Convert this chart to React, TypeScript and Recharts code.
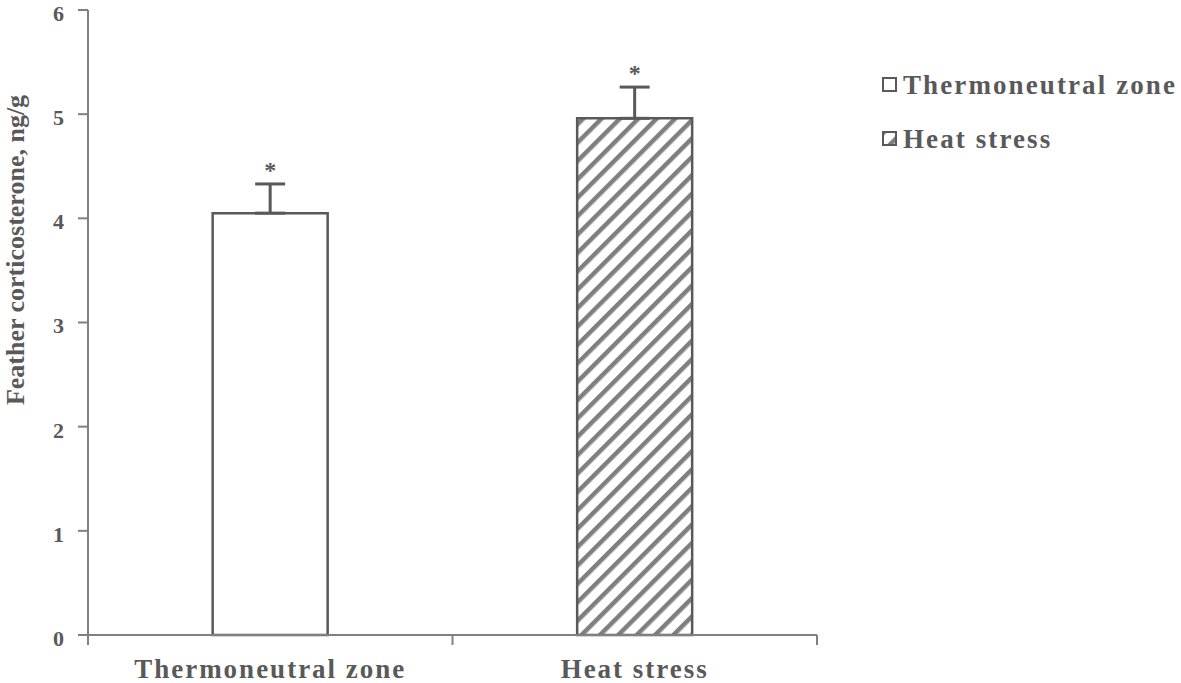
import React from "react";
import { BarChart, Bar, XAxis, YAxis, Cell, ErrorBar, Legend, LabelList, Label } from "recharts";

const categories = ["Thermoneutral zone", "Heat stress"];
const means = [4.05, 4.96];
const errors = [0.28, 0.3];
const marks = ["*", "*"];
const yTicks = [0, 1, 2, 3, 4, 5, 6];
const yTitle = "Feather corticosterone, ng/g";

const TEXT = "#595959";
const AXIS = "#808080";
const FONT = "'Liberation Serif', 'Times New Roman', serif";

const data = categories.map((c, i) => ({
  name: c,
  value: means[i],
  err: [0, errors[i]],
  mark: marks[i],
}));

const fills = ["#ffffff", "url(#hatch)"];

const XTick = (props: any) => {
  const { x, y, payload, index } = props;
  const off = payload.offset || 0;
  return (
    <g>
      <line x1={x - off} x2={x - off} y1={y} y2={y + 10} stroke={AXIS} strokeWidth={2} />
      {index === categories.length - 1 && (
        <line x1={x + off} x2={x + off} y1={y} y2={y + 10} stroke={AXIS} strokeWidth={2} />
      )}
      <text x={x} y={y + 43} textAnchor="middle" fill={TEXT} fontFamily={FONT} fontWeight="bold" fontSize={27} letterSpacing={2}>
        {payload.value}
      </text>
    </g>
  );
};

const YTick = (props: any) => {
  const { x, y, payload } = props;
  return (
    <text x={x} y={y + 3} dy="0.36em" textAnchor="end" fill={TEXT} fontFamily={FONT} fontWeight="bold" fontSize={22}>
      {payload.value}
    </text>
  );
};

const MarkLabel = (props: any) => {
  const { x, y, width, height, value, index } = props;
  const perUnit = height / means[index];
  const errTop = y - errors[index] * perUnit;
  return (
    <text x={x + width / 2} y={errTop - 6} textAnchor="middle" fill={TEXT} fontFamily={FONT} fontWeight="bold" fontSize={24}>
      {value}
    </text>
  );
};

const LegendContent = () => (
  <div style={{ fontFamily: FONT, fontWeight: "bold", fontSize: 27, letterSpacing: 2.1, color: TEXT }}>
    {categories.map((c, i) => (
      <div key={c} style={{ display: "flex", alignItems: "center", height: 54, whiteSpace: "nowrap" }}>
        <svg width={21} height={16}>
          <rect x={1} y={1} width={13} height={13} fill={fills[i]} stroke={TEXT} strokeWidth={2} />
        </svg>
        <span>{c}</span>
      </div>
    ))}
  </div>
);

export default function App() {
  return (
    <div style={{ position: "absolute", left: 0, top: 0, width: 1181, height: 683, background: "#fff" }}>
      <BarChart
        width={1181}
        height={683}
        data={data}
        margin={{ top: 10, right: 364, bottom: 0, left: 0 }}
        barCategoryGap="34.2%"
      >
        <defs>
          <pattern id="hatch" patternUnits="userSpaceOnUse" width={13} height={13} patternTransform="rotate(45)">
            <rect x={0} y={0} width={13} height={13} fill="#ffffff" />
            <rect x={0} y={0} width={4.5} height={13} fill="#7f7f7f" />
          </pattern>
        </defs>
        <XAxis
          dataKey="name"
          height={48}
          axisLine={{ stroke: AXIS, strokeWidth: 2 }}
          tickLine={false}
          tickSize={0}
          tickMargin={0}
          tick={<XTick />}
          interval={0}
        />
        <YAxis
          width={88}
          domain={[0, 6]}
          ticks={yTicks}
          interval={0}
          axisLine={{ stroke: AXIS, strokeWidth: 2 }}
          tickLine={{ stroke: AXIS, strokeWidth: 2 }}
          tickSize={10}
          tickMargin={14}
          tick={<YTick />}
        >
          <Label
            content={() => {
              const cx = 24;
              const cy = 250;
              return (
                <text
                  x={cx}
                  y={cy}
                  textAnchor="middle"
                  transform={`rotate(-90, ${cx}, ${cy})`}
                  fill={TEXT}
                  fontFamily={FONT}
                  fontWeight="bold"
                  fontSize={26}
                >
                  {yTitle}
                </text>
              );
            }}
          />
        </YAxis>
        <Legend
          layout="vertical"
          align="center"
          verticalAlign="middle"
          wrapperStyle={{ left: 882, top: 58, width: 299 }}
          content={<LegendContent />}
        />
        <Bar dataKey="value" stroke={TEXT} strokeWidth={2.5} isAnimationActive={false}>
          {data.map((d, i) => (
            <Cell key={d.name} fill={fills[i]} />
          ))}
          <ErrorBar dataKey="err" width={15} stroke={TEXT} strokeWidth={3} direction="y" />
          <LabelList dataKey="mark" content={<MarkLabel />} />
        </Bar>
      </BarChart>
    </div>
  );
}
